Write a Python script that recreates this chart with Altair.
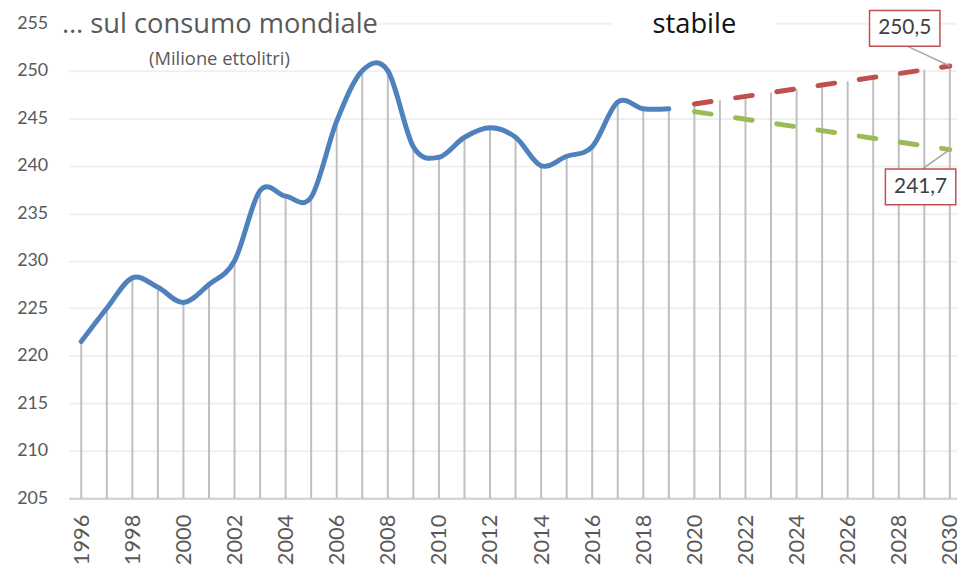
import altair as alt
import pandas as pd

# ---- data ----
anni_storici = list(range(1996, 2020))
consumo = [221.5, 225.0, 228.2, 227.2, 225.6, 227.5, 230.0, 237.4, 236.8, 236.7,
           244.7, 250.0, 250.0, 242.0, 240.9, 243.0, 244.0, 243.0, 240.0, 241.0,
           242.0, 246.7, 246.0, 246.0]

anni_proiezione = list(range(2020, 2031))
scenario_alto = [246.5, 246.9, 247.3, 247.7, 248.1, 248.5, 248.9, 249.3, 249.7, 250.1, 250.5]
scenario_basso = [245.7, 245.3, 244.9, 244.5, 244.1, 243.7, 243.3, 242.9, 242.5, 242.1, 241.7]

y_ticks = list(range(205, 256, 5))
x_ticks = list(range(1996, 2031, 2))

titolo = "… sul consumo mondiale"
sottotitolo = "(Milione ettolitri)"
etichetta = "stabile"
etichette_finali = ["250,5", "241,7"]

# ---- tables ----
hist = pd.DataFrame({"anno": anni_storici, "valore": consumo})
alto = pd.DataFrame({"anno": anni_proiezione, "valore": scenario_alto})
basso = pd.DataFrame({"anno": anni_proiezione, "valore": scenario_basso})
drop = pd.DataFrame({
    "anno": anni_storici + anni_proiezione,
    "top": consumo + [max(a, b) for a, b in zip(scenario_alto, scenario_basso)],
})
drop["base"] = 205

XS = alt.Scale(domain=[1995.5, 2030.28], nice=False, zero=False)
YS = alt.Scale(domain=[205, 255], nice=False, zero=False)
AX = alt.Axis(values=x_ticks, format="d", labelAngle=270, labelFont="Lato",
              labelFontSize=22, labelColor="#595959", ticks=False, grid=False,
              domainColor="#D0D0D0", domainWidth=2, labelPadding=16,
              labelFlush=False, labelOverlap=False, title=None)
AY = alt.Axis(values=y_ticks, labelFont="Lato", labelFontSize=18,
              labelColor="#595959", ticks=False, domain=False, labelPadding=21,
              gridColor="#EFEFEF", gridWidth=2, title=None)


def X(f):
    return alt.X(f, type="quantitative", scale=XS, axis=AX)


def Y(f):
    return alt.Y(f, type="quantitative", scale=YS, axis=AY)


drops = alt.Chart(drop).mark_rule(color="#BFBFBF", strokeWidth=2).encode(
    x=X("anno"), y=Y("top"), y2=alt.Y2("base"))

line_hist = alt.Chart(hist).mark_line(
    color="#4F81BD", strokeWidth=5, interpolate="cardinal", tension=0,
    strokeCap="round").encode(x=X("anno"), y=Y("valore"))

line_alto = alt.Chart(alto).mark_line(
    color="#C0504D", strokeWidth=5, strokeDash=[17, 25], strokeCap="round").encode(
    x=X("anno"), y=Y("valore"))

line_basso = alt.Chart(basso).mark_line(
    color="#9BBB59", strokeWidth=5, strokeDash=[17, 25], strokeCap="round").encode(
    x=X("anno"), y=Y("valore"))

# white backgrounds behind the header texts (they hide the top gridline)
bg = pd.DataFrame({"x1": [1995.3, 2016.77], "x2": [2007.65, 2023.21],
                   "y1": [253.4, 253.4], "y2": [256.2, 256.2]})
backs = alt.Chart(bg).mark_rect(color="white").encode(
    x=X("x1"), x2=alt.X2("x2"), y=Y("y1"), y2=alt.Y2("y2"))


def label(text, x, y, size, color):
    df = pd.DataFrame({"anno": [x], "valore": [y], "t": [text]})
    return alt.Chart(df).mark_text(font="Open Sans", fontSize=size, color=color,
                                   baseline="alphabetic", align="center").encode(
        x=X("anno"), y=Y("valore"), text="t")


t_title = label(titolo, 2001.43, 253.96, 27.5, "#595959")
t_sub = label(sottotitolo, 2001.41, 250.65, 18.5, "#595959")
t_stab = label(etichetta, 2020.0, 253.96, 27.5, "#111111")

# callouts at the 2030 end points
pt_alto = pd.DataFrame({"anno": [anni_proiezione[-1]], "valore": [scenario_alto[-1]],
                        "t": [etichette_finali[0]]})
pt_basso = pd.DataFrame({"anno": [anni_proiezione[-1]], "valore": [scenario_basso[-1]],
                         "t": [etichette_finali[1]]})


def callout(df, box, lead, dtext):
    rule = alt.Chart(df).mark_rule(color="#A6A6A6", strokeWidth=1.5,
                                   x2Offset=lead[0], y2Offset=lead[1]).encode(
        x=X("anno"), y=Y("valore"), x2=alt.X2("anno"), y2=alt.Y2("valore"))
    rect = alt.Chart(df).mark_rect(fill="white", stroke="#C0504D", strokeWidth=1.5,
                                   xOffset=box[0], x2Offset=box[1],
                                   yOffset=box[2], y2Offset=box[3]).encode(
        x=X("anno"), x2=alt.X2("anno"), y=Y("valore"), y2=alt.Y2("valore"))
    text = alt.Chart(df).mark_text(font="Lato", fontSize=21, color="#404040",
                                   dx=dtext[0], dy=dtext[1], baseline="middle").encode(
        x=X("anno"), y=Y("valore"), text="t")
    return rule + rect + text


c1 = callout(pt_alto, (-81, -10, -56, -20), (-43, -20), (-45.5, -38))
c2 = callout(pt_basso, (-65, 6, 19.6, 55.6), (-28, 19.6), (-29.5, 37.6))

chart = alt.layer(drops, backs, line_hist, line_alto, line_basso,
                  t_title, t_sub, t_stab, c1, c2).properties(
    width=896, height=479,
    autosize=alt.AutoSizeParams(type="none"),
    padding={"left": 61, "top": 13, "right": 0, "bottom": 73},
).configure_view(stroke=None)

chart.save("out.html", embed_options={"renderer": "svg", "actions": False})
